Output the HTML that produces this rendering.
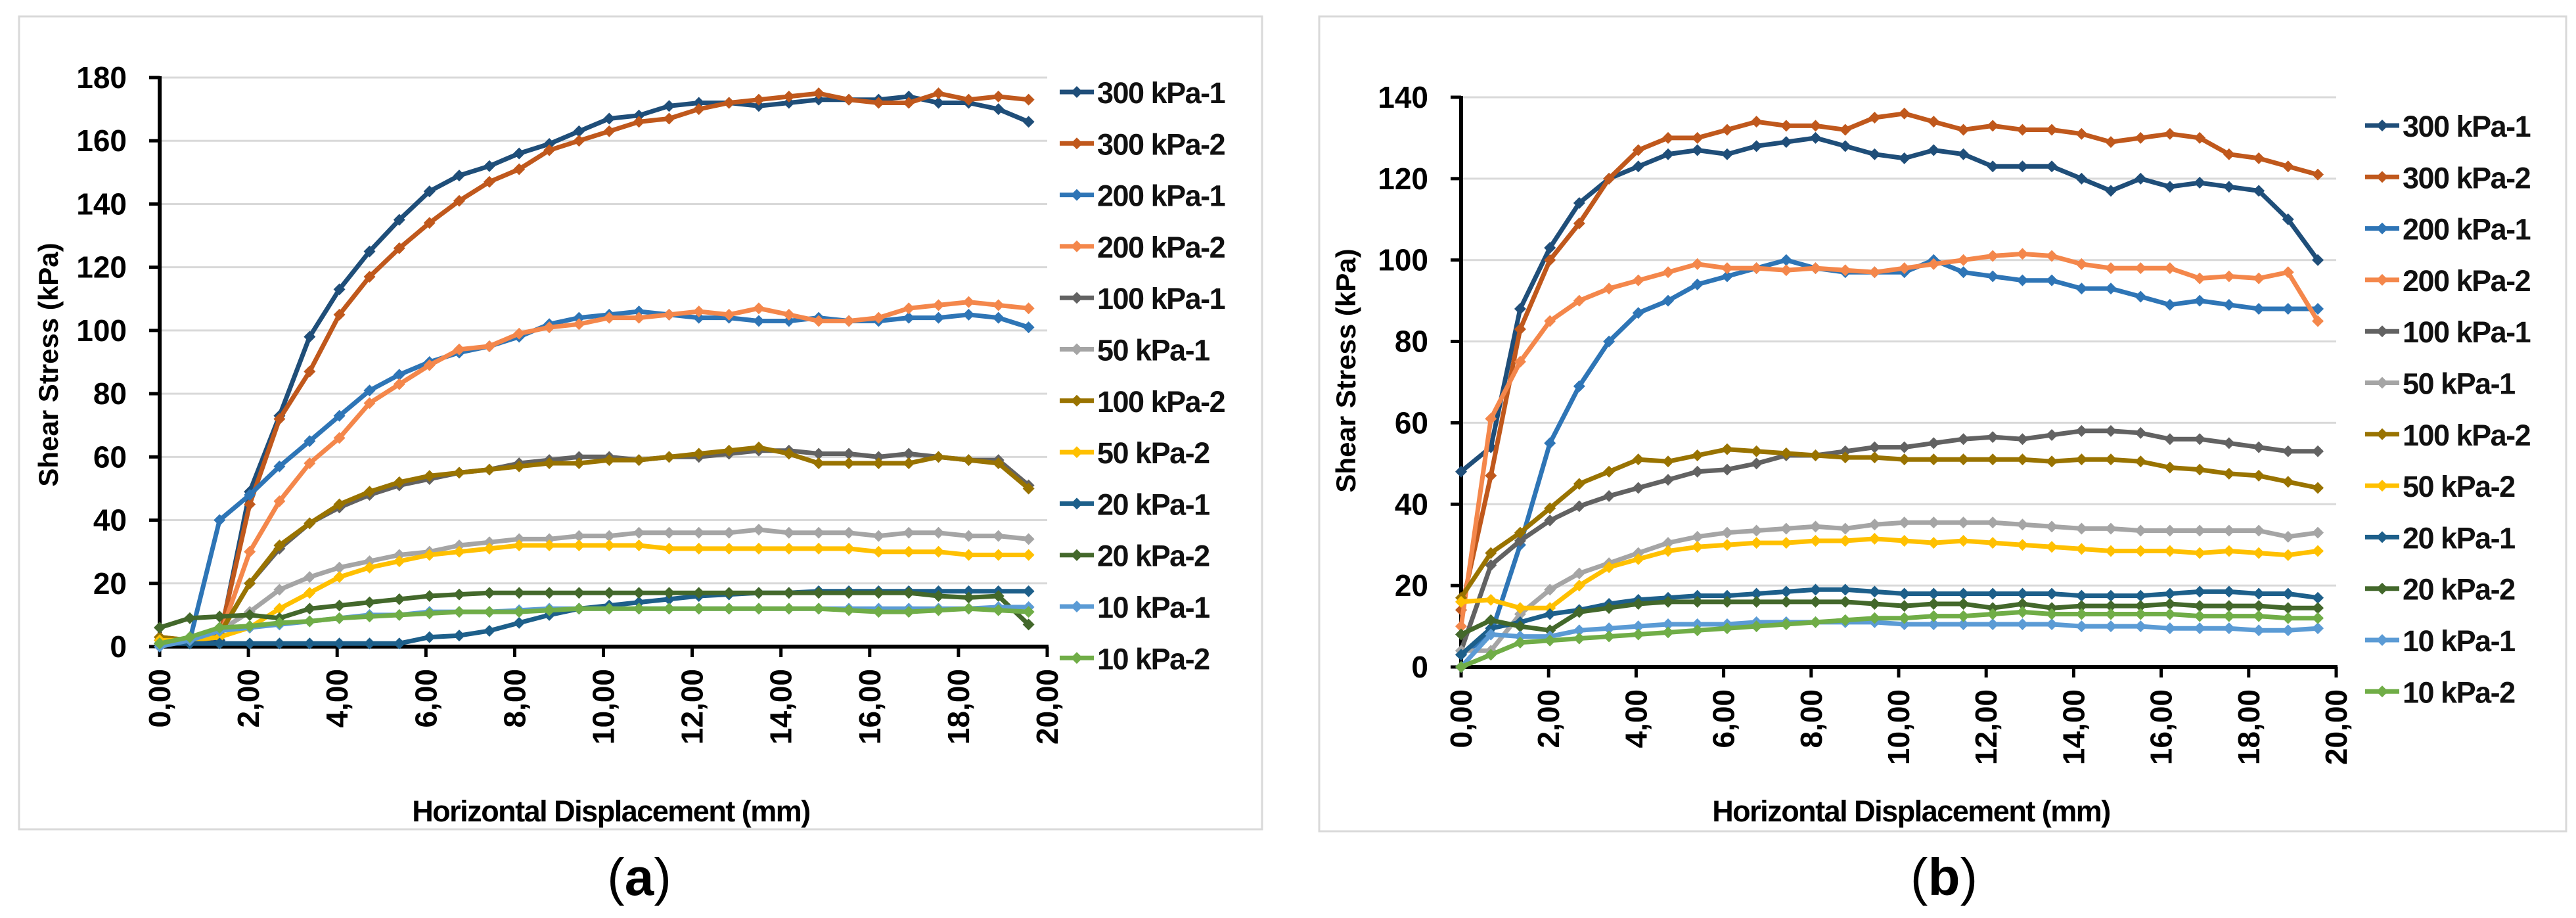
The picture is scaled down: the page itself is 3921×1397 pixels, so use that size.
<!DOCTYPE html>
<html><head><meta charset="utf-8"><style>
html,body{margin:0;padding:0;background:#fff}
svg{display:block}
text{font-family:"Liberation Sans",sans-serif}
</style></head><body>
<svg id="fig" width="3921" height="1397" viewBox="0 0 3921 1397" xmlns="http://www.w3.org/2000/svg">
<rect x="0" y="0" width="3921" height="1397" fill="#fff"/>
</svg>
<script>
const xValues=[0,0.68,1.35,2.03,2.7,3.38,4.05,4.73,5.4,6.08,6.75,7.43,8.1,8.78,9.45,10.13,10.8,11.48,12.15,12.83,13.5,14.18,14.85,15.53,16.2,16.88,17.55,18.23,18.9,19.58];
const seriesNames=["300 kPa-1","300 kPa-2","200 kPa-1","200 kPa-2","100 kPa-1","50 kPa-1","100 kPa-2","50 kPa-2","20 kPa-1","20 kPa-2","10 kPa-1","10 kPa-2"];
const seriesColors=["#1F4E79","#C0581C","#2E75B6","#F4874B","#626262","#A5A5A5","#997300","#FFC000","#1D5F8A","#43682B","#5B9BD5","#70AD47"];
const xTickLabels=["0,00","2,00","4,00","6,00","8,00","10,00","12,00","14,00","16,00","18,00","20,00"];
const yTicksA=[0,20,40,60,80,100,120,140,160,180];
const yTicksB=[0,20,40,60,80,100,120,140];
// chart (a) values
const a300_1=[2,1,2,49,73,98,113,125,135,144,149,152,156,159,163,167,168,171,172,172,171,172,173,173,173,174,172,172,170,166];
const a300_2=[3,2,3,45,72,87,105,117,126,134,141,147,151,157,160,163,166,167,170,172,173,174,175,173,172,172,175,173,174,173];
const a200_1=[1,2,40,48,57,65,73,81,86,90,93,95,98,102,104,105,106,105,104,104,103,103,104,103,103,104,104,105,104,101];
const a200_2=[2,2,3,30,46,58,66,77,83,89,94,95,99,101,102,104,104,105,106,105,107,105,103,103,104,107,108,109,108,107];
const a100_1=[2,2,4,20,31,39,44,48,51,53,55,56,58,59,60,60,59,60,60,61,62,62,61,61,60,61,60,59,59,51];
const a50_1=[1,2,5,11,18,22,25,27,29,30,32,33,34,34,35,35,36,36,36,36,37,36,36,36,35,36,36,35,35,34];
const a100_2=[3,2,4,20,32,39,45,49,52,54,55,56,57,58,58,59,59,60,61,62,63,61,58,58,58,58,60,59,58,50];
const a50_2=[2,2,3,6,12,17,22,25,27,29,30,31,32,32,32,32,32,31,31,31,31,31,31,31,30,30,30,29,29,29];
const a20_1=[1,1,1,1,1,1,1,1,1,3,3.5,5,7.5,10,12,13,14,15,16,16.5,17,17,17.5,17.5,17.5,17.5,17.5,17.5,17.5,17.5];
const a20_2=[6,9,9.5,10,9,12,13,14,15,16,16.5,17,17,17,17,17,17,17,17,17,17,17,17,17,17,17,16,15.5,16,7];
const a10_1=[0,2,5,6,7,8,9,10,10,11,11,11,11.5,12,12,12,12,12,12,12,12,12,12,12,12,12,12,12,12.5,12.5];
const a10_2=[1,3,6,6.5,7.5,8,9,9.5,10,10.5,11,11,11,11.5,12,12,12,12,12,12,12,12,12,11.5,11,11,11.5,12,11.5,11];
// chart (b) values
const b300_1=[48,54,88,103,114,120,123,126,127,126,128,129,130,128,126,125,127,126,123,123,123,120,117,120,118,119,118,117,110,100];
const b300_2=[14,47,83,100,109,120,127,130,130,132,134,133,133,132,135,136,134,132,133,132,132,131,129,130,131,130,126,125,123,121];
const b200_1=[3,8,30,55,69,80,87,90,94,96,98,100,98,97,97,97,100,97,96,95,95,93,93,91,89,90,89,88,88,88];
const b200_2=[10,61,75,85,90,93,95,97,99,98,98,97.5,98,97.5,97,98,99,100,101,101.5,101,99,98,98,98,95.5,96,95.5,97,85];
const b100_1=[4,25,31,36,39.5,42,44,46,48,48.5,50,52,52,53,54,54,55,56,56.5,56,57,58,58,57.5,56,56,55,54,53,53];
const b50_1=[4,4,13,19,23,25.5,28,30.5,32,33,33.5,34,34.5,34,35,35.5,35.5,35.5,35.5,35,34.5,34,34,33.5,33.5,33.5,33.5,33.5,32,33];
const b100_2=[17,28,33,39,45,48,51,50.5,52,53.5,53,52.5,52,51.5,51.5,51,51,51,51,51,50.5,51,51,50.5,49,48.5,47.5,47,45.5,44];
const b50_2=[16,16.5,14.5,14.5,20,24.5,26.5,28.5,29.5,30,30.5,30.5,31,31,31.5,31,30.5,31,30.5,30,29.5,29,28.5,28.5,28.5,28,28.5,28,27.5,28.5];
const b20_1=[3,9.5,11,13,14,15.5,16.5,17,17.5,17.5,18,18.5,19,19,18.5,18,18,18,18,18,18,17.5,17.5,17.5,18,18.5,18.5,18,18,17];
const b20_2=[8,11.5,10,9,13.5,14.5,15.5,16,16,16,16,16,16,16,15.5,15,15.5,15.5,14.5,15.5,14.5,15,15,15,15.5,15,15,15,14.5,14.5];
const b10_1=[0,8,7.5,7.5,9,9.5,10,10.5,10.5,10.5,11,11,11,11,11,10.5,10.5,10.5,10.5,10.5,10.5,10,10,10,9.5,9.5,9.5,9,9,9.5];
const b10_2=[0,3,6,6.5,7,7.5,8,8.5,9,9.5,10,10.5,11,11.5,12,12,12.5,12.5,13,13.5,13,13,13,13,13,12.5,12.5,12.5,12,12];

const seriesA=[a300_1,a300_2,a200_1,a200_2,a100_1,a50_1,a100_2,a50_2,a20_1,a20_2,a10_1,a10_2];
const seriesB=[b300_1,b300_2,b200_1,b200_2,b100_1,b50_1,b100_2,b50_2,b20_1,b20_2,b10_1,b10_2];

const NS="http://www.w3.org/2000/svg";
const svg=document.getElementById('fig');
function mk(tag,attrs,parent){const e=document.createElementNS(NS,tag);for(const k in attrs)e.setAttribute(k,attrs[k]);(parent||svg).appendChild(e);return e;}

function drawChart(cfg){
  const g=mk('g',{});
  
  
  const fr=mk('rect',{x:cfg.fx,y:cfg.fy,width:cfg.fw,height:cfg.fh,fill:'#fff',stroke:'#d9d9d9','stroke-width':3},g);
  
  
  const X=v=>cfg.x0+(v-0)/20*(cfg.x1-cfg.x0);
  const Y=v=>cfg.y0-(v/cfg.ymax)*(cfg.y0-cfg.ytop);
  cfg.yTicks.forEach(t=>{
    if(t>0){const gl=mk('line',{x1:cfg.x0,x2:cfg.x1,y1:Y(t),y2:Y(t),stroke:'#d9d9d9','stroke-width':3},g);
      
      }
    mk('line',{x1:cfg.x0-16,x2:cfg.x0,y1:Y(t),y2:Y(t),stroke:'#000','stroke-width':5},g);
    const tl=mk('text',{x:cfg.x0-50,y:Y(t)+16,'text-anchor':'end','font-size':46,'font-weight':'bold',fill:'#000'},g);
    tl.textContent=t;
    
    
  });
  const ya=mk('line',{x1:cfg.x0,x2:cfg.x0,y1:Y(cfg.ymax)-2,y2:cfg.y0+2,stroke:'#000','stroke-width':6},g);
  
  
  const xa=mk('line',{x1:cfg.x0-2,x2:cfg.x1+2,y1:cfg.y0,y2:cfg.y0,stroke:'#000','stroke-width':6},g);
  
  
  xTickLabels.forEach((lab,i)=>{
    const xv=X(i*2);
    mk('line',{x1:xv,x2:xv,y1:cfg.y0,y2:cfg.y0+16,stroke:'#000','stroke-width':5},g);
    const tl=mk('text',{x:0,y:0,'text-anchor':'end','font-size':46,'font-weight':'bold',fill:'#000',transform:`translate(${xv+16},${cfg.y0+34}) rotate(-90)`},g);
    tl.textContent=lab;
    
    
  });
  cfg.series.forEach((vals,si)=>{
    const col=seriesColors[si];
    const sg=mk('g',{},g);
    
    
    const pts=vals.map((v,i)=>X(xValues[i]).toFixed(1)+','+Y(v).toFixed(1)).join(' ');
    mk('polyline',{points:pts,fill:'none',stroke:col,'stroke-width':7,'stroke-linejoin':'round','stroke-linecap':'round'},sg);
    vals.forEach((v,i)=>{
      const cx=X(xValues[i]),cy=Y(v);
      const m=mk('path',{d:`M${cx-9},${cy} L${cx},${cy-9} L${cx+9},${cy} L${cx},${cy+9} Z`,fill:col},sg);
      
      
    });
  });
  seriesNames.forEach((nm,si)=>{
    const ly=cfg.ly+si*78.3;
    const lg=mk('g',{},g);
    
    
    mk('line',{x1:cfg.lx,x2:cfg.lx+52,y1:ly,y2:ly,stroke:seriesColors[si],'stroke-width':7},lg);
    mk('path',{d:`M${cfg.lx+17},${ly} l9,-9 l9,9 l-9,9 Z`,fill:seriesColors[si]},lg);
    const t=mk('text',{x:cfg.lx+57,y:ly+17,'font-size':45,'font-weight':'bold',fill:'#111','letter-spacing':'-1.5'},lg);
    t.textContent=nm;
  });
  const xt=mk('text',{x:cfg.xtx,y:1250,'text-anchor':'middle','font-size':45,'font-weight':'bold',fill:'#000','letter-spacing':'-1.5'},g);
  xt.textContent='Horizontal Displacement (mm)';
  
  
  const yt=mk('text',{x:0,y:0,'text-anchor':'middle','font-size':42,'font-weight':'bold',fill:'#000',transform:`translate(${cfg.ytx+15},${cfg.yty}) rotate(-90)`},g);
  yt.textContent='Shear Stress (kPa)';
  
  
  const cap=mk('text',{x:cfg.capx,y:1362,'text-anchor':'middle','font-size':80,fill:'#000','font-family':'"Liberation Serif",serif'},g);
  cap.innerHTML='(<tspan font-weight="bold">'+cfg.cap+'</tspan>)';
  
  
}
drawChart({id:'a',fx:29,fy:25,fw:1892,fh:1237,x0:243,x1:1594,y0:984,ytop:118,ymax:180,yTicks:yTicksA,series:seriesA,lx:1613,ly:140,xtx:930,ytx:73,yty:555,capx:973,cap:'a'});
drawChart({id:'b',fx:2008,fy:25,fw:1898,fh:1240,x0:2224,x1:3556,y0:1015,ytop:148,ymax:140,yTicks:yTicksB,series:seriesB,lx:3600,ly:191,xtx:2909,ytx:2048,yty:564,capx:2959,cap:'b'});
</script>
</body></html>
